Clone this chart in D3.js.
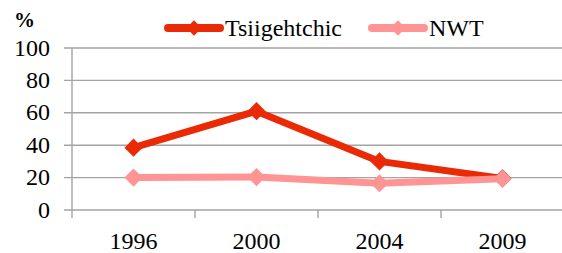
<!DOCTYPE html>
<html>
<head>
<meta charset="utf-8">
<script src="https://cdn.jsdelivr.net/npm/d3@7"></script>
</head>
<body style="margin:0">
<script>
// data
const years = ["1996", "2000", "2004", "2009"];
const tsiigehtchic = [38.5, 61, 30, 19.5];
const nwt = [20, 20.3, 16.5, 19.3];
const yTicks = [0, 20, 40, 60, 80, 100];
const seriesNames = ["Tsiigehtchic", "NWT"];
const seriesColors = ["#E92A05", "#FF9494"];

const W = 562, H = 253;
const plot = { left: 72, right: 564, top: 48, bottom: 210 };
const fontName = "'Liberation Serif'";

const svg = d3.select("body").append("svg")
    .attr("width", W)
    .attr("height", H);

const x = d3.scaleBand().domain(years).range([plot.left, plot.right]);
const y = d3.scaleLinear().domain([0, 100]).range([plot.bottom, plot.top]);

// sets font on a text selection
const font = (sel, size, weight) => sel
    .attr("font-family", "Liberation Serif")
    .attr("font-size", size)
    .style("font-family", fontName, "important")
    .style("font-size", size + "px", "important")
    .style("font-weight", weight || "normal");

// gridlines
svg.append("g").selectAll("line")
    .data(yTicks)
    .enter().append("line")
    .attr("x1", plot.left - 8).attr("x2", W)
    .attr("y1", d => y(d)).attr("y2", d => y(d))
    .style("stroke", "#a3a3a3").style("stroke-width", 1.4);

// y axis line
svg.append("line")
    .attr("x1", plot.left).attr("x2", plot.left)
    .attr("y1", plot.top).attr("y2", plot.bottom + 8)
    .style("stroke", "#a3a3a3").style("stroke-width", 1.4);

// x category ticks
svg.append("g").selectAll("line")
    .data(years.slice(1).map(d => x(d)).concat([plot.right]))
    .enter().append("line")
    .attr("x1", d => d).attr("x2", d => d)
    .attr("y1", plot.bottom).attr("y2", plot.bottom + 8)
    .style("stroke", "#a3a3a3").style("stroke-width", 1.4);

// y labels
svg.append("g").selectAll("text")
    .data(yTicks)
    .enter().append("text")
    .attr("x", 50).attr("y", d => y(d) + 7.5)
    .attr("text-anchor", "end")
    .call(font, 24)
    .text(d => d);

svg.append("text")
    .attr("x", 14).attr("y", 27)
    .call(font, 21, "bold")
    .text("%");

// x labels
svg.append("g").selectAll("text")
    .data(years)
    .enter().append("text")
    .attr("x", d => x(d) + x.bandwidth() / 2)
    .attr("y", 249)
    .attr("text-anchor", "middle")
    .call(font, 24)
    .text(d => d);

const diamond = d3.symbol().type(d3.symbolDiamond2).size(210);

const line = d3.line()
    .x((d, i) => x(years[i]) + x.bandwidth() / 2)
    .y(d => y(d));

[tsiigehtchic, nwt].forEach((vals, k) => {
    const g = svg.append("g");
    g.append("path")
        .datum(vals)
        .attr("d", line)
        .style("fill", "none")
        .style("stroke", seriesColors[k])
        .style("stroke-width", 7)
        .style("stroke-linejoin", "round");
    g.selectAll("path.m")
        .data(vals)
        .enter().append("path")
        .attr("class", "m")
        .attr("transform", (d, i) => "translate(" + (x(years[i]) + x.bandwidth() / 2) + "," + y(d) + ")")
        .attr("d", diamond)
        .style("fill", seriesColors[k]);
});

// legend
const legendX = [165, 369];
seriesNames.forEach((name, k) => {
    const g = svg.append("g").attr("transform", "translate(" + legendX[k] + ",28)");
    g.append("line")
        .attr("x1", 3).attr("x2", 55)
        .attr("y1", 0).attr("y2", 0)
        .style("stroke", seriesColors[k])
        .style("stroke-width", 8)
        .style("stroke-linecap", "round");
    g.append("path")
        .attr("transform", "translate(29,0)")
        .attr("d", d3.symbol().type(d3.symbolDiamond2).size(150))
        .style("fill", seriesColors[k]);
    g.append("text")
        .attr("x", 60).attr("y", 8)
        .call(font, 24)
        .text(name);
});
</script>
</body>
</html>
